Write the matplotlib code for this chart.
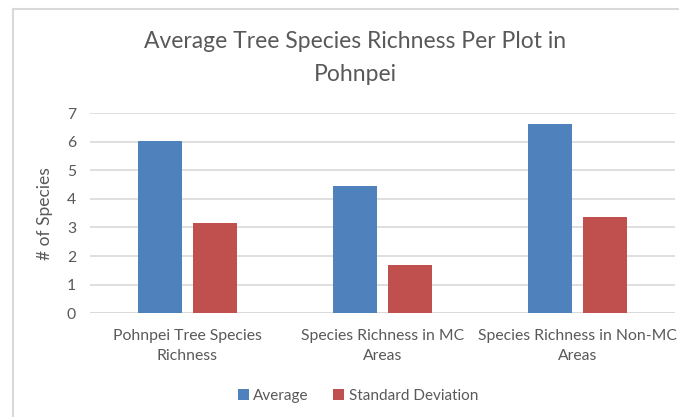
import numpy as np
import matplotlib.pyplot as plt
from matplotlib.lines import Line2D

categories = ["Pohnpei Tree Species\nRichness",
              "Species Richness in MC\nAreas",
              "Species Richness in Non-MC\nAreas"]
average = [6.03, 4.46, 6.61]
std_dev = [3.14, 1.70, 3.36]
series_names = ["Average", "Standard Deviation"]
yticks = [0, 1, 2, 3, 4, 5, 6, 7]

plt.rcParams['font.family'] = ['Lato', 'DejaVu Sans']
grey = '#595959'
W, H = 679, 417

fig = plt.figure(figsize=(W / 100, H / 100), dpi=100)
ax = fig.add_axes([90 / W, 1 - 313.3 / H, 585 / W, 200.3 / H])

x = np.arange(len(categories))
w = 0.225
gap = 0.06
ax.bar(x - (w + gap) / 2, average, w, color='#4F81BD', label=series_names[0], zorder=3)
ax.bar(x + (w + gap) / 2, std_dev, w, color='#C0504D', label=series_names[1], zorder=3)

ax.set_xlim(-0.5, 2.5)
ax.set_ylim(0, 7)
ax.set_yticks(yticks)
ax.yaxis.grid(True, color='#d9d9d9', lw=1.2, zorder=0)
for s in ax.spines.values():
    s.set_visible(False)
ax.axhline(0, color='#d9d9d9', lw=1.2, zorder=1)
ax.set_xticks(x, categories)
ax.tick_params(length=0, colors=grey, labelsize=11.3)
ax.tick_params(axis='y', pad=10)
ax.tick_params(axis='x', pad=11)
for lbl in ax.get_xticklabels():
    lbl.set_linespacing(1.6)
ax.set_ylabel("# of Species", color=grey, fontsize=12.5, labelpad=10)

fig.text(355 / W, 1 - 58 / H, "Average Tree Species Richness Per Plot in\nPohnpei",
         ha='center', va='center', color=grey, fontsize=16.5, linespacing=1.65)

fig.legend(loc='center', bbox_to_anchor=(358 / W, 1 - 396 / H), ncol=2, frameon=False,
           fontsize=11, labelcolor=grey, handlelength=0.7, handleheight=0.7,
           handletextpad=0.3, columnspacing=1.6)

fig.add_artist(Line2D([13 / W, 13 / W], [0, 1 - 9 / H], color='#d9d9d9', lw=1.5))
fig.add_artist(Line2D([13 / W, 1], [1 - 9 / H, 1 - 9 / H], color='#d9d9d9', lw=1.5))

fig.savefig('out.png', dpi=100)
